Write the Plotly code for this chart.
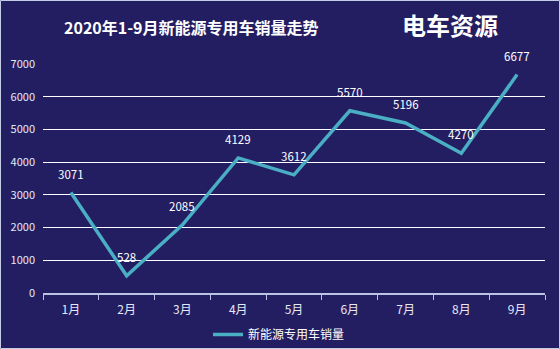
import plotly.graph_objects as go

months = ["1月", "2月", "3月", "4月", "5月", "6月", "7月", "8月", "9月"]
sales = [3071, 528, 2085, 4129, 3612, 5570, 5196, 4270, 6677]
series_name = "新能源专用车销量"
title_text = "2020年1-9月新能源专用车销量走势"
logo_text = "电车资源"
y_ticks = [0, 1000, 2000, 3000, 4000, 5000, 6000, 7000]

BG = "#231e62"
LINE = "#4aaec4"
FONT = "Noto Sans CJK SC"

W, H = 560, 349
L, R, T, B = 43, 15, 64, 56
PW, PH = W - L - R, H - T - B


def px_to_paper(px, py):
    return (px - L) / PW, (H - B - py) / PH


fig = go.Figure()
fig.add_trace(go.Scatter(
    x=months, y=sales, mode="lines", name=series_name,
    line=dict(color=LINE, width=3.5),
))

for m, v in zip(months, sales):
    fig.add_annotation(x=m, y=v, text=str(v), showarrow=False,
                       yshift=19, font=dict(color="white", size=11.5, family=FONT))

tx, ty = px_to_paper(191, 27)
fig.add_annotation(xref="paper", yref="paper", x=tx, y=ty,
                   text="<b>" + title_text + "</b>", showarrow=False,
                   xanchor="center", yanchor="middle",
                   font=dict(color="white", size=16, family=FONT))
lx, ly = px_to_paper(450, 24)
fig.add_annotation(xref="paper", yref="paper", x=lx, y=ly,
                   text="<b>" + logo_text + "</b>", showarrow=False,
                   xanchor="center", yanchor="middle",
                   font=dict(color="white", size=24, family=FONT))

x0, y0 = px_to_paper(0.5, H - 0.5)
x1, y1 = px_to_paper(W - 0.5, 0.5)
fig.add_shape(type="rect", xref="paper", yref="paper", x0=x0, y0=y0, x1=x1, y1=y1,
              line=dict(color="#c5cde6", width=1), layer="above")

legx, legy = px_to_paper(279, 320)
fig.update_layout(
    width=W, height=H,
    margin=dict(l=L, r=R, t=T, b=B, pad=0, autoexpand=False),
    paper_bgcolor=BG, plot_bgcolor=BG,
    font=dict(family=FONT, color="#e6e8f4", size=11),
    showlegend=True,
    legend=dict(orientation="h", x=legx, xanchor="center", y=legy, yanchor="top",
                font=dict(color="white", size=12, family=FONT),
                bgcolor="rgba(0,0,0,0)"),
    xaxis=dict(type="category", range=[-0.5, len(months) - 0.5],
               showgrid=False, showline=True,
               linecolor="#b9c3e2", linewidth=1.5,
               ticks="outside", tickson="boundaries", ticklen=5, tickcolor="#b9c3e2",
               ticklabelstandoff=5,
               tickfont=dict(size=12, color="#e6e8f4")),
    yaxis=dict(range=[0, 7000], tickvals=y_ticks, showgrid=True,
               gridcolor="white", gridwidth=1, zeroline=False, showline=False,
               ticks="", ticklabelstandoff=7,
               tickfont=dict(size=11, color="#e6e8f4")),
)

fig.write_html("out.html")
